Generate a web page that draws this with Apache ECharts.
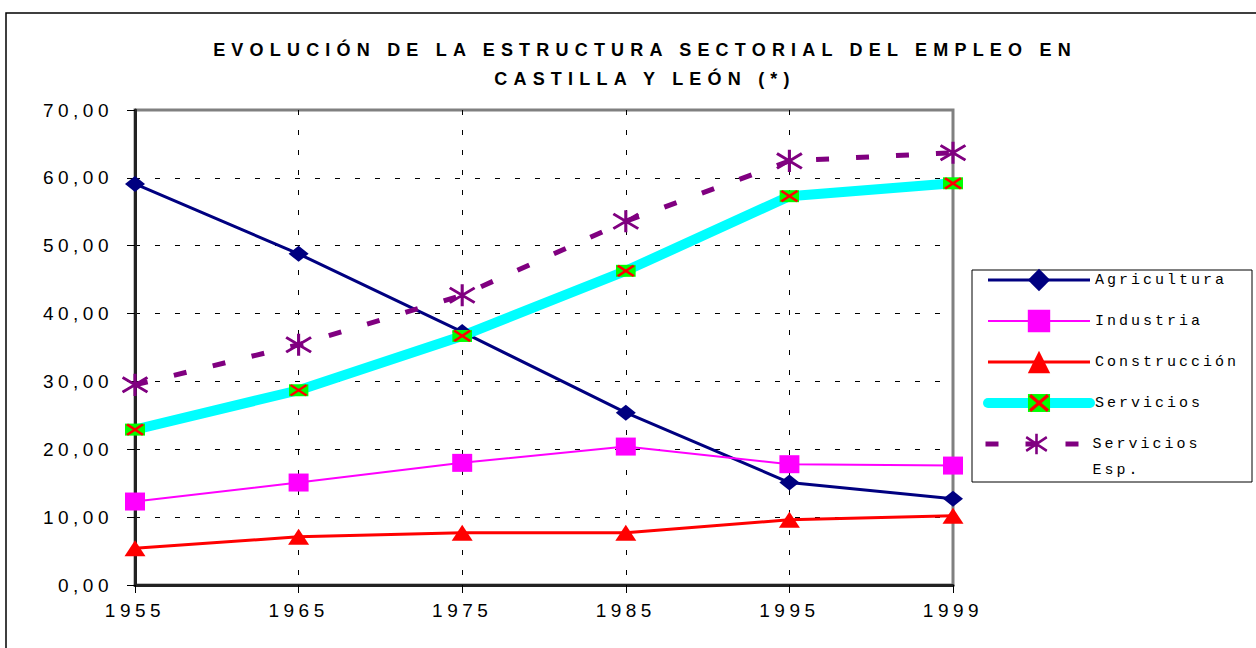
<!DOCTYPE html>
<html>
<head>
<meta charset="utf-8">
<script src="https://cdn.jsdelivr.net/npm/echarts@6.0.0/dist/echarts.min.js"></script>
<style>
html, body { margin: 0; padding: 0; background: #fff; }
#chart { width: 1256px; height: 648px; }
/* el original tiene el texto muy espaciado */
#chart text { letter-spacing: 4.5px; }
#chart text[style*="Mono"] { letter-spacing: 3px; }
#chart text[style*="Narrow"] { letter-spacing: 6.2px; }
</style>
</head>
<body>
<div id="chart"></div>
<script>
// años (eje x)
var years = ['1955', '1965', '1975', '1985', '1995', '1999'];
// porcentaje de empleo por sector
var agricultura = [59.1, 48.8, 37.3, 25.4, 15.1, 12.7];
var industria = [12.3, 15.1, 18.0, 20.4, 17.8, 17.6];
var construccion = [5.4, 7.1, 7.7, 7.7, 9.6, 10.2];
var servicios = [22.9, 28.7, 36.7, 46.3, 57.3, 59.2];
var serviciosEsp = [29.5, 35.4, 42.7, 53.6, 62.5, 63.7];

var seriesNames = ['Agricultura', 'Industria', 'Construcción', 'Servicios', 'Servicios Esp.'];

// simbolos que echarts no tiene: cuadrado verde con aspa roja y asterisco
var svgCruz = "<svg xmlns='http://www.w3.org/2000/svg' width='20' height='16' viewBox='0 0 20 16'>" +
  "<rect width='20' height='16' fill='#00ff00'/>" +
  "<path d='M2 1L18 15M18 1L2 15' stroke='#ff0000' stroke-width='3'/></svg>";
var svgAsterisco = "<svg xmlns='http://www.w3.org/2000/svg' width='26' height='24' viewBox='0 0 26 24'>" +
  "<path d='M13 0V24M1 4L25 20M25 4L1 20' stroke='#800080' stroke-width='3'/></svg>";
function img(svg) {
  return 'image://data:image/svg+xml;charset=utf-8,' + encodeURIComponent(svg);
}

var splitStyle = { color: '#000', width: 1, type: [5, 15] };
var labelFont = '"Liberation Sans", Arial, sans-serif';

// estilo comun de las dos leyendas
var legendBase = {
  orient: 'vertical',
  left: 983,
  padding: 0,
  itemWidth: 102,
  itemHeight: 28,
  itemGap: 15,
  lineStyle: { width: 'inherit' },
  textStyle: {
    fontFamily: '"Liberation Mono", monospace',
    fontSize: 15,
    lineHeight: 26,
    color: '#000'
  }
};

var option = {
  animation: false,
  backgroundColor: '#fff',
  title: {
    text: 'EVOLUCIÓN DE LA ESTRUCTURA SECTORIAL DEL EMPLEO EN\nCASTILLA Y LEÓN (*)',
    left: 640,
    top: 30,
    textAlign: 'center',
    textStyle: {
      fontFamily: '"Liberation Sans Narrow", "Liberation Sans", Arial',
      fontWeight: 'bold',
      fontSize: 18,
      lineHeight: 29,
      color: '#000'
    }
  },
  grid: {
    left: 135,
    right: 303,
    top: 110,
    bottom: 63,
    show: true,
    borderColor: '#808080',
    borderWidth: 3
  },
  legend: [
    echarts.util.extend({
      top: 267,
      data: seriesNames.slice(0, 4)
    }, legendBase),
    // la ultima entrada va en dos lineas, alineada con la primera
    echarts.util.extend({
      top: 405,
      data: [seriesNames[4]],
      formatter: function(name) {
        return '\nServicios\nEsp.';
      }
    }, legendBase)
  ],
  xAxis: {
    type: 'category',
    data: years,
    boundaryGap: false,
    axisLine: { lineStyle: { color: '#222', width: 3 } },
    axisTick: { show: true, length: 8, lineStyle: { color: '#000', width: 1 } },
    axisLabel: { color: '#000', fontSize: 19, fontFamily: labelFont, margin: 16 },
    splitLine: { show: true, showMinLine: false, showMaxLine: false, lineStyle: splitStyle }
  },
  yAxis: {
    type: 'value',
    min: 0,
    max: 70,
    interval: 10,
    axisLine: { show: true, lineStyle: { color: '#222', width: 3 } },
    axisTick: { show: true, length: 8, lineStyle: { color: '#000', width: 1 } },
    axisLabel: {
      color: '#000',
      fontSize: 19,
      fontFamily: labelFont,
      margin: 22,
      formatter: function(v) {
        return v.toFixed(2).replace('.', ',');
      }
    },
    splitLine: { show: true, showMinLine: false, showMaxLine: false, lineStyle: splitStyle }
  },
  graphic: [
    // marco exterior del grafico
    {
      type: 'rect',
      shape: { x: 6, y: 13, width: 1300, height: 700 },
      style: { fill: 'none', stroke: '#000', lineWidth: 1.5 },
      silent: true
    },
    // caja de la leyenda
    {
      type: 'rect',
      shape: { x: 972, y: 270, width: 280, height: 212 },
      style: { fill: 'none', stroke: '#000', lineWidth: 1 },
      silent: true
    }
  ],
  series: [
    {
      name: seriesNames[0],
      type: 'line',
      data: agricultura,
      color: '#000080',
      symbol: 'diamond',
      symbolSize: [20, 16],
      lineStyle: { width: 3 }
    },
    {
      name: seriesNames[1],
      type: 'line',
      data: industria,
      color: '#ff00ff',
      symbol: 'rect',
      symbolSize: [20, 18],
      lineStyle: { width: 2 }
    },
    {
      name: seriesNames[2],
      type: 'line',
      data: construccion,
      color: '#ff0000',
      symbol: 'triangle',
      symbolSize: [21, 16],
      lineStyle: { width: 3 }
    },
    {
      name: seriesNames[3],
      type: 'line',
      data: servicios,
      color: '#00ffff',
      symbol: img(svgCruz),
      symbolSize: [20, 15],
      lineStyle: { width: 10, cap: 'round' }
    },
    {
      name: seriesNames[4],
      type: 'line',
      data: serviciosEsp,
      color: '#800080',
      symbol: img(svgAsterisco),
      symbolSize: [27, 24],
      lineStyle: { width: 5, type: [13, 27] }
    }
  ]
};

var myChart = echarts.init(document.getElementById('chart'), null, { renderer: 'svg' });
myChart.setOption(option);
</script>
</body>
</html>
